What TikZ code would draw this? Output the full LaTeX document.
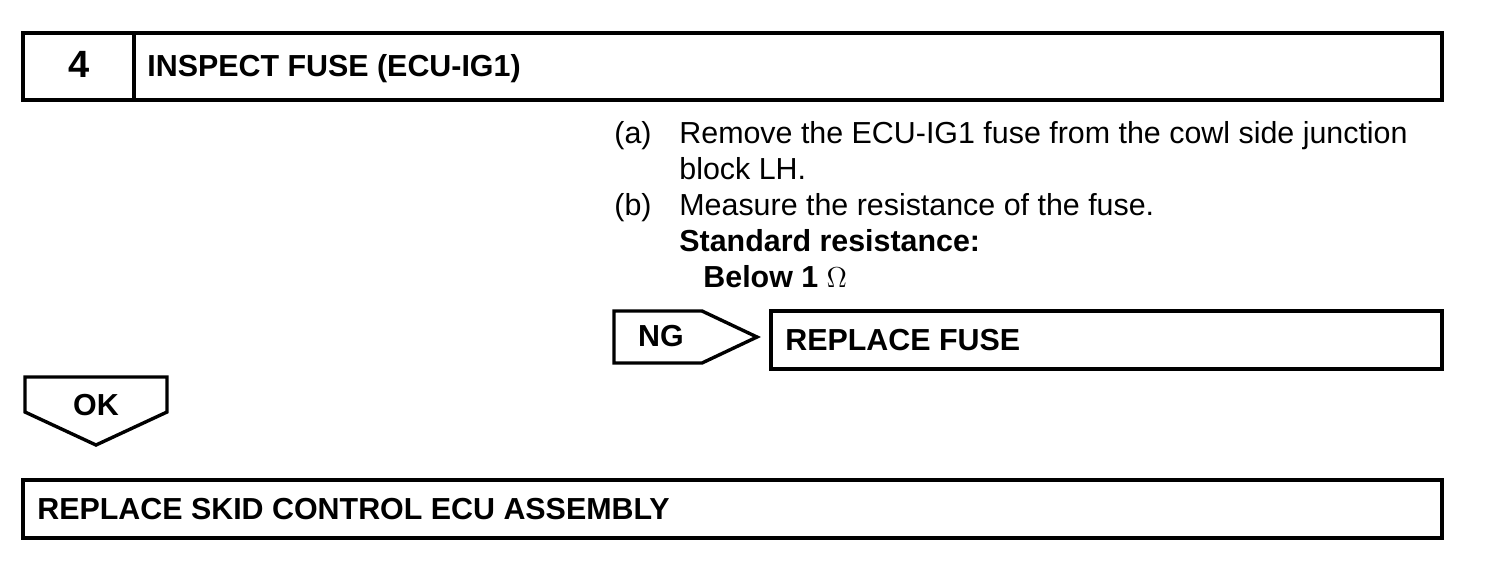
\documentclass[tikz,border=0pt]{standalone}
\usepackage{fontspec}
\setmainfont{Liberation Sans}
\usepackage{tikz}
\definecolor{cizgiSiyah}{HTML}{000000}
\tikzset{
  kutu/.style={draw=cizgiSiyah,line width=1.7pt,line join=miter},
  metin/.style={anchor=base west,inner sep=0pt,font=\fontsize{15.2}{18}\selectfont},
  kalin/.style={metin,font=\fontsize{15.2}{18}\selectfont\bfseries},
}

\begin{document}
\begin{tikzpicture}[x=0.5pt,y=-0.5pt]
\useasboundingbox (0,0) rectangle (1504,570);
% 1) Baslik kutusu
\draw[kutu] (23,33) rectangle (1442,100);
\draw[kutu] (134,33)--(134,100);
\node[kalin,anchor=base,font=\fontsize{19}{22}\selectfont\bfseries] (adimNo) at (79,77) {4};
\node[kalin] (baslik) at (147,76) {INSPECT FUSE (ECU-IG1)};
% 2) Adimlar (a), (b)
\node[metin] (harfA) at (614,143) {(a)};
\node[metin] (adimA) at (679,143) {Remove the ECU-IG1 fuse from the cowl side junction};
\node[metin] (adimA2) at (679,179) {block LH.};
\node[metin] (harfB) at (614,215) {(b)};
\node[metin] (adimB) at (679,215) {Measure the resistance of the fuse.};
\node[kalin] (standart) at (679,251) {Standard resistance:};
\node[kalin] (deger) at (703,287) {Below 1 \textmd{$\Omega$}};
% 3) NG -> sigorta degistir
\draw[kutu] (614,311)--(702,311)--(757,337)--(702,363)--(614,363)--cycle;
\node[kalin,anchor=base] (ng) at (661,346) {NG};
\draw[kutu] (771,311) rectangle (1442,369);
\node[kalin] (sigorta) at (785,350) {REPLACE FUSE};
% 4) OK -> ECU degistir
\draw[kutu] (25,377)--(167,377)--(167,412)--(96,445)--(25,412)--cycle;
\node[kalin,anchor=base] (ok) at (96,415) {OK};
\draw[kutu] (23,480) rectangle (1442,538);
\node[kalin] (ecu) at (37,519) {REPLACE SKID CONTROL ECU ASSEMBLY};
\end{tikzpicture}
\end{document}
